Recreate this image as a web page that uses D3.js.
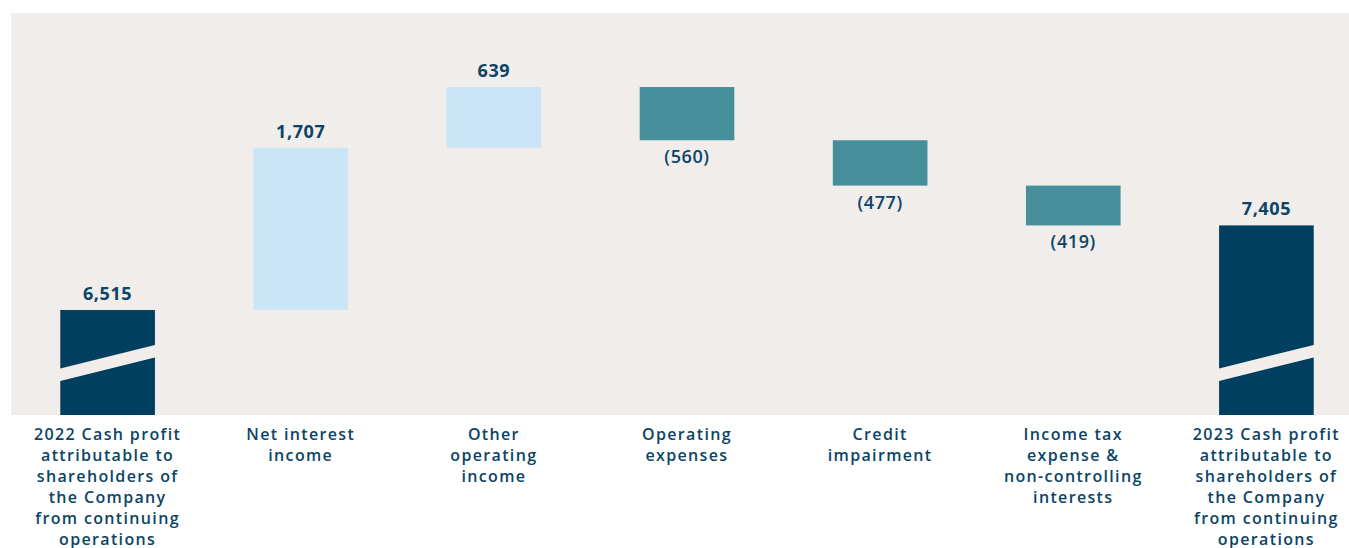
<!DOCTYPE html>
<html lang="en">
	<head>
		<meta charset="utf-8">
		<title>Cash profit waterfall</title>
		<script type="text/javascript" src="https://cdn.jsdelivr.net/npm/d3@7"></script>
		<style type="text/css">
			body {
				margin: 0;
				background: #ffffff;
			}
			text {
				font-family: "Open Sans", sans-serif;
				fill: #0b4466;
			}
		</style>
	</head>
	<body>
		<script type="text/javascript">

			//Canvas size
			var w = 1349;
			var h = 548;

			//Chart data
			var categories = [
				["2022 Cash profit", "attributable to", "shareholders of", "the Company", "from continuing", "operations"],
				["Net interest", "income"],
				["Other", "operating", "income"],
				["Operating", "expenses"],
				["Credit", "impairment"],
				["Income tax", "expense &", "non-controlling", "interests"],
				["2023 Cash profit", "attributable to", "shareholders of", "the Company", "from continuing", "operations"]
			];
			var values = [6515, 1707, 639, -560, -477, -419, 7405];
			var kinds = ["total", "delta", "delta", "delta", "delta", "delta", "total"];
			var valueLabels = ["6,515", "1,707", "639", "(560)", "(477)", "(419)", "7,405"];

			//Build waterfall steps
			var running = 0;
			var steps = values.map(function(v, i) {
				var s;
				if (kinds[i] == "total") {
					s = { start: null, end: v };
					running = v;
				} else {
					s = { start: running, end: running + v };
					running += v;
				}
				s.value = v;
				s.kind = kinds[i];
				s.label = valueLabels[i];
				s.cat = categories[i];
				s.i = i;
				return s;
			});

			var plotTop = 13;
			var plotBottom = 415;
			var plotLeft = 11;

			var svg = d3.select("body")
						.append("svg")
						.attr("width", w)
						.attr("height", h);

			//Scales (the value axis is truncated, bars are drawn with a break)
			var xScale = d3.scaleBand()
							.domain(d3.range(values.length))
							.range([12, 1362])
							.paddingInner(0.51)
							.paddingOuter(0.25);

			var yScale = d3.scaleLinear()
							.domain([5410, 9640])
							.range([plotBottom, plotTop]);

			//Background panel
			svg.append("rect")
				.attr("x", plotLeft)
				.attr("y", plotTop)
				.attr("width", w - plotLeft)
				.attr("height", plotBottom - plotTop)
				.attr("fill", "#f1edea");

			function barColor(d) {
				if (d.kind == "total") return "#003f60";
				return d.value > 0 ? "#c9e5f6" : "#458e9a";
			}

			function barTop(d) {
				if (d.kind == "total") return yScale(d.end);
				return yScale(Math.max(d.start, d.end));
			}
			function barBottom(d) {
				if (d.kind == "total") return plotBottom;
				return yScale(Math.min(d.start, d.end));
			}

			//Bars
			svg.selectAll("rect.bar")
				.data(steps)
				.enter()
				.append("rect")
				.attr("class", "bar")
				.attr("x", function(d) { return xScale(d.i); })
				.attr("y", barTop)
				.attr("width", xScale.bandwidth())
				.attr("height", function(d) { return barBottom(d) - barTop(d); })
				.attr("fill", barColor);

			//Break marks on the truncated total bars
			var breakLeft = 40, breakRight = 64, breakGap = 12.5;
			svg.selectAll("path.break")
				.data(steps.filter(function(d) { return d.kind == "total"; }))
				.enter()
				.append("path")
				.attr("class", "break")
				.attr("d", function(d) {
					var x0 = xScale(d.i) - 1, x1 = xScale(d.i) + xScale.bandwidth() + 1;
					var yl = plotBottom - breakLeft, yr = plotBottom - breakRight;
					return "M" + x0 + "," + (yl - breakGap / 2) +
						"L" + x1 + "," + (yr - breakGap / 2) +
						"L" + x1 + "," + (yr + breakGap / 2) +
						"L" + x0 + "," + (yl + breakGap / 2) + "Z";
				})
				.attr("fill", "#f1edea");

			//Value labels
			svg.selectAll("text.value")
				.data(steps)
				.enter()
				.append("text")
				.attr("class", "value")
				.attr("x", function(d) { return xScale(d.i) + xScale.bandwidth() / 2; })
				.attr("y", function(d) {
					return d.value < 0 ? barBottom(d) + 23 : barTop(d) - 10;
				})
				.attr("text-anchor", "middle")
				.attr("font-size", 18)
				.attr("font-weight", function(d) { return d.value < 0 ? 600 : 700; })
				.attr("letter-spacing", 0.6)
				.text(function(d) { return d.label; });

			//Category labels
			var cat = svg.selectAll("text.cat")
				.data(steps)
				.enter()
				.append("text")
				.attr("class", "cat")
				.attr("x", function(d) { return xScale(d.i) + xScale.bandwidth() / 2; })
				.attr("y", 440)
				.attr("text-anchor", "middle")
				.attr("font-size", 16)
				.attr("font-weight", 600)
				.attr("letter-spacing", 1.35);

			cat.selectAll("tspan")
				.data(function(d) { return d.cat; })
				.enter()
				.append("tspan")
				.attr("x", function() { return d3.select(this.parentNode).attr("x"); })
				.attr("dy", function(d, i) { return i == 0 ? 0 : 21; })
				.text(function(d) { return d; });

		</script>
	</body>
</html>
